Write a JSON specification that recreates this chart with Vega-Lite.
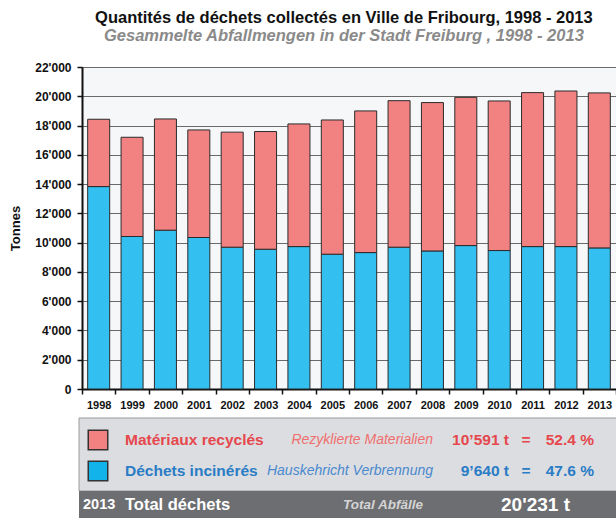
{
  "$schema": "https://vega.github.io/schema/vega-lite/v6.json",
  "padding": {"left": 9, "top": 9, "right": 0, "bottom": 0},
  "background": "white",
  "config": {
    "font": "Liberation Sans",
    "concat": {"spacing": 6},
    "axis": {"labelFont": "Liberation Sans", "titleFont": "Liberation Sans"}
  },
  "title": {
    "text": "Quantités de déchets collectés en Ville de Fribourg, 1998 - 2013",
    "subtitle": "Gesammelte Abfallmengen in der Stadt Freiburg , 1998 - 2013",
    "fontSize": 16.5,
    "fontWeight": "bold",
    "color": "#111111",
    "subtitleFontSize": 16.5,
    "subtitleFontStyle": "italic",
    "subtitleFontWeight": "bold",
    "subtitleColor": "#8a8a8a",
    "subtitlePadding": 2,
    "anchor": "middle",
    "dx": 28,
    "offset": 16
  },
  "datasets": {
    "waste": [
      {"year": "1998", "type": "Déchets incinérés", "tonnes": 13830},
      {"year": "1998", "type": "Matériaux recyclés", "tonnes": 4600},
      {"year": "1999", "type": "Déchets incinérés", "tonnes": 10420},
      {"year": "1999", "type": "Matériaux recyclés", "tonnes": 6780},
      {"year": "2000", "type": "Déchets incinérés", "tonnes": 10850},
      {"year": "2000", "type": "Matériaux recyclés", "tonnes": 7600},
      {"year": "2001", "type": "Déchets incinérés", "tonnes": 10350},
      {"year": "2001", "type": "Matériaux recyclés", "tonnes": 7350},
      {"year": "2002", "type": "Déchets incinérés", "tonnes": 9690},
      {"year": "2002", "type": "Matériaux recyclés", "tonnes": 7860},
      {"year": "2003", "type": "Déchets incinérés", "tonnes": 9550},
      {"year": "2003", "type": "Matériaux recyclés", "tonnes": 8040},
      {"year": "2004", "type": "Déchets incinérés", "tonnes": 9730},
      {"year": "2004", "type": "Matériaux recyclés", "tonnes": 8380},
      {"year": "2005", "type": "Déchets incinérés", "tonnes": 9210},
      {"year": "2005", "type": "Matériaux recyclés", "tonnes": 9170},
      {"year": "2006", "type": "Déchets incinérés", "tonnes": 9320},
      {"year": "2006", "type": "Matériaux recyclés", "tonnes": 9680},
      {"year": "2007", "type": "Déchets incinérés", "tonnes": 9690},
      {"year": "2007", "type": "Matériaux recyclés", "tonnes": 10010},
      {"year": "2008", "type": "Déchets incinérés", "tonnes": 9430},
      {"year": "2008", "type": "Matériaux recyclés", "tonnes": 10140},
      {"year": "2009", "type": "Déchets incinérés", "tonnes": 9800},
      {"year": "2009", "type": "Matériaux recyclés", "tonnes": 10130},
      {"year": "2010", "type": "Déchets incinérés", "tonnes": 9460},
      {"year": "2010", "type": "Matériaux recyclés", "tonnes": 10220},
      {"year": "2011", "type": "Déchets incinérés", "tonnes": 9730},
      {"year": "2011", "type": "Matériaux recyclés", "tonnes": 10520},
      {"year": "2012", "type": "Déchets incinérés", "tonnes": 9730},
      {"year": "2012", "type": "Matériaux recyclés", "tonnes": 10630},
      {"year": "2013", "type": "Déchets incinérés", "tonnes": 9640},
      {"year": "2013", "type": "Matériaux recyclés", "tonnes": 10591}
    ],
    "legend": [
      {"key": "rec", "fr": "Matériaux recyclés", "de": "Rezyklierte Materialien", "t": "10’591 t", "eq": "=", "pct": "52.4 %"},
      {"key": "inc", "fr": "Déchets incinérés", "de": "Hauskehricht Verbrennung", "t": "9’640 t", "eq": "=", "pct": "47.6 %"},
      {"key": "tot", "year": "2013", "fr": "Total déchets", "de": "Total Abfälle", "t": "20'231 t"}
    ]
  },
  "vconcat": [
    {
      "width": 534,
      "height": 322,
      "view": {"fill": "#f6f7f9", "stroke": "#666666", "strokeWidth": 1},
      "data": {"name": "waste"},
      "mark": {"type": "bar", "width": {"band": 0.66}, "stroke": "#2b2b2b", "strokeWidth": 1},
      "encoding": {
        "x": {
          "field": "year",
          "type": "ordinal",
          "scale": {"paddingInner": 0, "paddingOuter": 0},
          "axis": {
            "title": null,
            "labelAngle": 0,
            "labelFontWeight": "bold",
            "labelFontSize": 11,
            "labelColor": "#111111",
            "labelPadding": 5,
            "tickBand": "extent",
            "tickColor": "#111111",
            "tickWidth": 1.5,
            "tickSize": 5,
            "domainColor": "#111111",
            "domainWidth": 2,
            "grid": false
          }
        },
        "y": {
          "field": "tonnes",
          "type": "quantitative",
          "stack": "zero",
          "scale": {"domain": [0, 22000], "nice": false},
          "axis": {
            "title": "Tonnes",
            "titleFontSize": 13,
            "titleFontWeight": "bold",
            "titleColor": "#111111",
            "titlePadding": 12,
            "values": [0, 2000, 4000, 6000, 8000, 10000, 12000, 14000, 16000, 18000, 20000, 22000],
            "labelExpr": "replace(format(datum.value, ','), ',', \"'\")",
            "labelFontWeight": "bold",
            "labelFontSize": 12,
            "labelColor": "#111111",
            "labelPadding": 6,
            "tickColor": "#111111",
            "tickWidth": 1.5,
            "tickSize": 5,
            "domainColor": "#111111",
            "domainWidth": 2,
            "grid": true,
            "gridColor": "#6a6a6a",
            "gridWidth": 1.2
          }
        },
        "color": {
          "field": "type",
          "type": "nominal",
          "scale": {"domain": ["Déchets incinérés", "Matériaux recyclés"], "range": ["#33bff0", "#f28282"]},
          "legend": null
        },
        "order": {"field": "type", "sort": "ascending"}
      }
    },
    {
      "width": 535,
      "height": 100,
      "view": {"fill": null, "stroke": null},
      "data": {"name": "legend"},
      "layer": [
        {
          "transform": [{"filter": "datum.key === 'rec'"}],
          "mark": {"type": "rect", "fill": "#dcdde0", "stroke": "#9a9a9a", "strokeWidth": 1},
          "encoding": {
            "x": {"datum": -3, "type": "quantitative", "scale": {"domain": [0, 535], "nice": false, "zero": false}, "axis": null},
            "x2": {"datum": 540},
            "y": {"datum": 1, "type": "quantitative", "scale": {"domain": [0, 100], "reverse": true, "nice": false, "zero": false}, "axis": null},
            "y2": {"datum": 74}
          }
        },
        {
          "transform": [{"filter": "datum.key === 'tot'"}],
          "mark": {"type": "rect", "fill": "#6d6e71"},
          "encoding": {
            "x": {"datum": -3, "type": "quantitative"},
            "x2": {"datum": 540},
            "y": {"datum": 74, "type": "quantitative"},
            "y2": {"datum": 101}
          }
        },
        {
          "transform": [{"filter": "datum.key === 'rec'"}],
          "mark": {"type": "square", "size": 380, "opacity": 1, "filled": true, "fill": "#f28282", "stroke": "#333333", "strokeWidth": 1.5},
          "encoding": {"x": {"datum": 16, "type": "quantitative"}, "y": {"datum": 23, "type": "quantitative"}}
        },
        {
          "transform": [{"filter": "datum.key === 'inc'"}],
          "mark": {"type": "square", "size": 380, "opacity": 1, "filled": true, "fill": "#12b2ea", "stroke": "#333333", "strokeWidth": 1.5},
          "encoding": {"x": {"datum": 16, "type": "quantitative"}, "y": {"datum": 54, "type": "quantitative"}}
        },
        {
          "transform": [{"filter": "datum.key === 'rec'"}],
          "mark": {"type": "text", "align": "left", "baseline": "middle", "fontSize": 15.5, "fontWeight": "bold", "color": "#e5474d"},
          "encoding": {"x": {"datum": 43, "type": "quantitative"}, "y": {"datum": 23, "type": "quantitative"}, "text": {"field": "fr"}}
        },
        {
          "transform": [{"filter": "datum.key === 'inc'"}],
          "mark": {"type": "text", "align": "left", "baseline": "middle", "fontSize": 15.5, "fontWeight": "bold", "color": "#2a7cc6"},
          "encoding": {"x": {"datum": 43, "type": "quantitative"}, "y": {"datum": 54, "type": "quantitative"}, "text": {"field": "fr"}}
        },
        {
          "transform": [{"filter": "datum.key === 'rec'"}],
          "mark": {"type": "text", "align": "right", "baseline": "middle", "fontSize": 14, "fontStyle": "italic", "color": "#ef6f6f"},
          "encoding": {"x": {"datum": 351, "type": "quantitative"}, "y": {"datum": 23, "type": "quantitative"}, "text": {"field": "de"}}
        },
        {
          "transform": [{"filter": "datum.key === 'inc'"}],
          "mark": {"type": "text", "align": "right", "baseline": "middle", "fontSize": 14, "fontStyle": "italic", "color": "#4a89cf"},
          "encoding": {"x": {"datum": 351, "type": "quantitative"}, "y": {"datum": 54, "type": "quantitative"}, "text": {"field": "de"}}
        },
        {
          "transform": [{"filter": "datum.key === 'rec'"}],
          "mark": {"type": "text", "align": "right", "baseline": "middle", "fontSize": 15.5, "fontWeight": "bold", "color": "#e5474d"},
          "encoding": {"x": {"datum": 427, "type": "quantitative"}, "y": {"datum": 23, "type": "quantitative"}, "text": {"field": "t"}}
        },
        {
          "transform": [{"filter": "datum.key === 'inc'"}],
          "mark": {"type": "text", "align": "right", "baseline": "middle", "fontSize": 15.5, "fontWeight": "bold", "color": "#2a7cc6"},
          "encoding": {"x": {"datum": 427, "type": "quantitative"}, "y": {"datum": 54, "type": "quantitative"}, "text": {"field": "t"}}
        },
        {
          "transform": [{"filter": "datum.key === 'rec'"}],
          "mark": {"type": "text", "align": "center", "baseline": "middle", "fontSize": 15.5, "fontWeight": "bold", "color": "#e5474d"},
          "encoding": {"x": {"datum": 444, "type": "quantitative"}, "y": {"datum": 23, "type": "quantitative"}, "text": {"field": "eq"}}
        },
        {
          "transform": [{"filter": "datum.key === 'inc'"}],
          "mark": {"type": "text", "align": "center", "baseline": "middle", "fontSize": 15.5, "fontWeight": "bold", "color": "#2a7cc6"},
          "encoding": {"x": {"datum": 444, "type": "quantitative"}, "y": {"datum": 54, "type": "quantitative"}, "text": {"field": "eq"}}
        },
        {
          "transform": [{"filter": "datum.key === 'rec'"}],
          "mark": {"type": "text", "align": "right", "baseline": "middle", "fontSize": 15.5, "fontWeight": "bold", "color": "#e5474d"},
          "encoding": {"x": {"datum": 512, "type": "quantitative"}, "y": {"datum": 23, "type": "quantitative"}, "text": {"field": "pct"}}
        },
        {
          "transform": [{"filter": "datum.key === 'inc'"}],
          "mark": {"type": "text", "align": "right", "baseline": "middle", "fontSize": 15.5, "fontWeight": "bold", "color": "#2a7cc6"},
          "encoding": {"x": {"datum": 512, "type": "quantitative"}, "y": {"datum": 54, "type": "quantitative"}, "text": {"field": "pct"}}
        },
        {
          "transform": [{"filter": "datum.key === 'tot'"}],
          "mark": {"type": "text", "align": "left", "baseline": "middle", "fontSize": 14.5, "fontWeight": "bold", "color": "#ffffff"},
          "encoding": {"x": {"datum": 1, "type": "quantitative"}, "y": {"datum": 88, "type": "quantitative"}, "text": {"field": "year"}}
        },
        {
          "transform": [{"filter": "datum.key === 'tot'"}],
          "mark": {"type": "text", "align": "left", "baseline": "middle", "fontSize": 16.5, "fontWeight": "bold", "color": "#ffffff"},
          "encoding": {"x": {"datum": 43, "type": "quantitative"}, "y": {"datum": 88, "type": "quantitative"}, "text": {"field": "fr"}}
        },
        {
          "transform": [{"filter": "datum.key === 'tot'"}],
          "mark": {"type": "text", "align": "right", "baseline": "middle", "fontSize": 13.5, "fontStyle": "italic", "fontWeight": "bold", "color": "#d4d4d4"},
          "encoding": {"x": {"datum": 341, "type": "quantitative"}, "y": {"datum": 88, "type": "quantitative"}, "text": {"field": "de"}}
        },
        {
          "transform": [{"filter": "datum.key === 'tot'"}],
          "mark": {"type": "text", "align": "left", "baseline": "middle", "fontSize": 19, "fontWeight": "bold", "color": "#ffffff"},
          "encoding": {"x": {"datum": 419, "type": "quantitative"}, "y": {"datum": 88, "type": "quantitative"}, "text": {"field": "t"}}
        }
      ]
    }
  ]
}
